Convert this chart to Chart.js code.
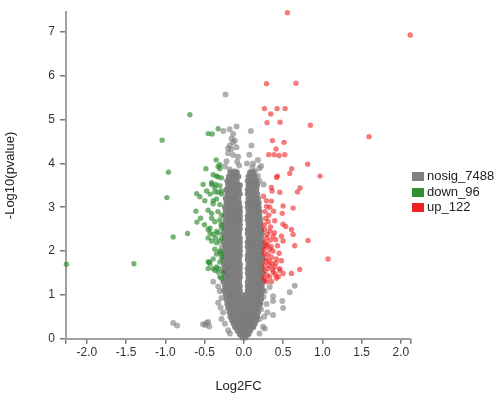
<!DOCTYPE html>
<html>
<head>
<meta charset="utf-8">
<script src="https://cdn.jsdelivr.net/npm/chart.js@4.4.1/dist/chart.umd.min.js"></script>
<style>
  html, body { margin: 0; padding: 0; background: #fff; }
  #wrap { position: relative; width: 498px; height: 397px; }
  .leg { position: absolute; left: 412px; font: 13px "Liberation Sans", Arial, sans-serif; color: #222; line-height: 15px; }
  .leg span { display: inline-block; width: 12px; height: 9px; margin-right: 3px; vertical-align: -1px; }
</style>
</head>
<body>
<div id="wrap">
  <canvas id="volcano" width="498" height="397"></canvas>
  <div class="leg" style="top:168px"><span style="background:#808080"></span>nosig_7488</div>
  <div class="leg" style="top:184px"><span style="background:#2f8f2f"></span>down_96</div>
  <div class="leg" style="top:199px"><span style="background:#ee2222"></span>up_122</div>
</div>
<script>
// axis ranges and tick labels
const xRange = [-2.265, 2.13];
const yRange = [0, 7.45];
const xTicks = [-2.0, -1.5, -1.0, -0.5, 0.0, 0.5, 1.0, 1.5, 2.0];
const yTicks = [0, 1, 2, 3, 4, 5, 6, 7];

// up-regulated genes [log2FC, -log10(p)]
const upPoints = [
  [0.556,7.44],[2.12,6.93],[0.29,5.82],[0.665,5.83],[0.263,5.25],[0.424,5.25],[0.526,5.25],[0.343,5.13],
  [0.297,4.93],[0.462,4.94],[0.848,4.87],[1.595,4.61],[0.365,4.52],[0.513,4.48],[0.411,4.33],[0.318,4.2],
  [0.386,4.2],[0.449,4.18],[0.522,4.2],[0.814,3.98],[0.61,3.88],[0.585,3.77],[0.429,3.71],[0.416,3.68],
  [0.971,3.71],[0.716,3.44],[0.683,3.35],[0.36,3.37],[0.458,3.34],[0.288,3.15],[0.352,3.14],[0.50,3.03],
  [0.628,2.98],[0.38,2.91],[0.49,2.86],[0.28,2.75],[0.31,2.67],[0.394,2.69],[0.50,2.61],[0.534,2.56],
  [0.607,2.49],[0.267,2.49],[0.33,2.45],[0.373,2.34],[0.407,2.26],[0.48,2.34],[0.50,2.23],[0.628,2.38],
  [0.818,2.24],[0.288,2.30],[0.288,2.12],[0.33,2.04],[0.373,2.0],[0.31,1.93],[0.352,1.86],[0.416,1.82],
  [0.48,1.78],[0.288,1.75],[0.33,1.67],[0.394,1.64],[0.458,1.6],[0.649,2.12],[1.073,1.82],[0.712,1.58],
  [0.31,1.6],[0.373,1.52],[0.458,1.56],[0.50,1.49],[0.607,1.49],[0.33,1.41],[0.416,1.38],[0.267,1.34],
  [0.352,1.30],[0.26,2.6],[0.27,2.2],[0.26,1.95],[0.27,1.55],[0.30,1.45],[0.30,2.38],[0.34,2.25],
  [0.36,1.72],[0.28,1.85],[0.32,1.78],[0.40,1.47],[0.44,1.42],[0.27,2.9],[0.29,3.02],[0.25,3.25],
  [0.34,2.55],[0.32,2.82],[0.43,2.12],[0.45,1.95],[0.39,2.42],[0.26,1.67],[0.30,2.15],[0.352,3.45],
  [0.33,3.0],[0.26,2.05],[0.25,1.4],[0.29,1.3],[0.41,1.72],[0.37,1.58],[0.35,2.1]
];

// down-regulated genes
const downPoints = [
  [-0.687,5.11],[-1.04,4.53],[-0.96,3.80],[-0.454,4.68],[-0.403,4.67],[-0.327,4.79],[-0.352,4.08],[-0.483,3.88],
  [-0.327,3.93],[-0.305,3.88],[-0.39,3.74],[-0.327,3.69],[-0.518,3.52],[-0.41,3.56],[-0.356,3.52],[-0.305,3.49],
  [-0.475,3.37],[-0.327,3.34],[-0.284,3.37],[-0.98,3.22],[-0.60,3.31],[-0.56,3.24],[-0.496,3.15],[-0.9,2.32],
  [-0.716,2.40],[-2.26,1.70],[-1.40,1.71],[-0.61,2.91],[-0.55,2.75],[-0.597,2.66],[-0.43,3.3],[-0.454,2.49],
  [-0.39,2.38],[-0.305,2.23],[-0.369,2.04],[-0.44,1.75],[-0.39,1.6],[-0.327,1.52],[-0.305,1.41],[-0.347,1.93],
  [-0.305,1.97],[-0.369,3.35],[-0.347,3.19],[-0.284,3.30],[-0.39,3.08],[-0.305,3.06],[-0.454,2.93],[-0.41,2.75],
  [-0.369,2.67],[-0.305,2.71],[-0.284,2.82],[-0.43,2.52],[-0.347,2.45],[-0.284,2.52],[-0.454,2.30],[-0.41,2.23],
  [-0.347,2.19],[-0.305,2.0],[-0.284,1.86],[-0.43,1.71],[-0.454,1.6],[-0.347,1.64],[-0.305,1.75],[-0.369,1.56],
  [-0.284,1.38],[-0.305,3.97],[-0.347,3.71],[-0.284,3.67],[-0.41,3.52],[-0.369,3.45],[-0.39,3.15],[-0.41,2.86],
  [-0.327,2.41],[-0.43,2.41],[-0.284,1.93],[-0.454,1.75],[-0.39,1.82],[-0.327,1.6],[-0.263,1.52],[-0.28,2.3],
  [-0.29,2.6],[-0.33,2.9],[-0.36,2.3],[-0.5,2.6]
];

// nosig cloud, read row by row: [-log10(p), log2FC, log2FC, ...]
const nosigRows = [
  [0.03, -0.02,0.02],
  [0.1, -0.05,-0.01,0.03,0.06],
  [0.18, -0.08,-0.04,0.0,0.04,0.08],
  [0.26, -0.11,-0.07,-0.03,0.01,0.05,0.09,0.12],
  [0.34, -0.13,-0.09,-0.05,-0.01,0.03,0.07,0.11,0.14],
  [0.42, -0.15,-0.11,-0.07,-0.03,0.01,0.05,0.09,0.13,0.16],
  [0.5, -0.17,-0.13,-0.09,-0.05,-0.01,0.03,0.07,0.11,0.15,0.17],
  [0.6, -0.18,-0.14,-0.10,-0.06,-0.02,0.02,0.06,0.10,0.14,0.18],
  [0.7, -0.2,-0.16,-0.12,-0.08,-0.04,0.0,0.04,0.08,0.12,0.16,0.19],
  [0.8, -0.21,-0.17,-0.13,-0.09,-0.05,-0.01,0.03,0.07,0.11,0.15,0.19,0.21],
  [0.9, -0.22,-0.18,-0.14,-0.1,-0.06,-0.02,0.02,0.06,0.1,0.14,0.18,0.22],
  [1.0, -0.23,-0.19,-0.15,-0.11,-0.07,-0.03,0.03,0.07,0.11,0.15,0.19,0.22],
  [1.1, -0.25,-0.21,-0.17,-0.13,-0.09,-0.05,0.05,0.09,0.13,0.17,0.21,0.24],
  [1.2, -0.24,-0.20,-0.16,-0.12,-0.08,-0.05,0.05,0.08,0.12,0.16,0.20,0.23],
  [1.3, -0.26,-0.22,-0.18,-0.14,-0.10,-0.06,0.05,0.09,0.13,0.17,0.21,0.24],
  [1.4, -0.24,-0.20,-0.16,-0.12,-0.08,-0.05,0.06,0.10,0.14,0.18,0.22],
  [1.5, -0.25,-0.21,-0.17,-0.13,-0.09,-0.05,0.05,0.09,0.13,0.17,0.21,0.24],
  [1.6, -0.24,-0.20,-0.16,-0.12,-0.08,-0.05,0.05,0.08,0.12,0.16,0.20,0.23],
  [1.7, -0.25,-0.21,-0.17,-0.13,-0.09,-0.05,0.06,0.10,0.14,0.18,0.22],
  [1.8, -0.26,-0.22,-0.18,-0.14,-0.10,-0.06,0.05,0.09,0.13,0.17,0.21,0.24],
  [1.9, -0.24,-0.20,-0.16,-0.12,-0.08,-0.05,0.05,0.08,0.12,0.16,0.20,0.23],
  [2.0, -0.25,-0.21,-0.17,-0.13,-0.09,-0.05,0.06,0.10,0.14,0.18,0.22],
  [2.1, -0.24,-0.20,-0.16,-0.12,-0.08,-0.05,0.05,0.09,0.13,0.17,0.21,0.24],
  [2.2, -0.25,-0.21,-0.17,-0.13,-0.09,-0.05,0.05,0.08,0.12,0.16,0.20,0.23],
  [2.3, -0.24,-0.20,-0.16,-0.12,-0.08,-0.05,0.06,0.10,0.14,0.18,0.22],
  [2.4, -0.26,-0.22,-0.18,-0.14,-0.10,-0.06,0.05,0.09,0.13,0.17,0.21,0.23],
  [2.5, -0.24,-0.20,-0.16,-0.12,-0.08,-0.05,0.05,0.08,0.12,0.16,0.20,0.22],
  [2.6, -0.25,-0.21,-0.17,-0.13,-0.09,-0.05,0.06,0.10,0.14,0.18,0.21],
  [2.7, -0.23,-0.19,-0.15,-0.11,-0.07,-0.05,0.05,0.09,0.13,0.17,0.21],
  [2.8, -0.24,-0.20,-0.16,-0.12,-0.08,-0.05,0.05,0.08,0.12,0.16,0.20],
  [2.9, -0.23,-0.19,-0.15,-0.11,-0.07,-0.05,0.06,0.10,0.14,0.18,0.20],
  [3.0, -0.24,-0.20,-0.16,-0.12,-0.08,-0.05,0.05,0.09,0.13,0.17,0.19],
  [3.1, -0.22,-0.18,-0.14,-0.10,-0.06,0.05,0.08,0.12,0.16,0.19],
  [3.2, -0.23,-0.19,-0.15,-0.11,-0.07,0.06,0.10,0.14,0.18],
  [3.3, -0.21,-0.17,-0.13,-0.09,-0.05,0.05,0.09,0.13,0.17],
  [3.4, -0.22,-0.18,-0.14,-0.10,-0.06,0.05,0.08,0.12,0.16],
  [3.5, -0.20,-0.16,-0.12,-0.08,-0.05,0.06,0.10,0.14,0.17],
  [3.6, -0.21,-0.17,-0.13,-0.09,0.05,0.09,0.13,0.16],
  [3.7, -0.19,-0.15,-0.11,-0.07,0.06,0.10,0.14],
  [3.8, -0.17,-0.13,-0.09,0.08,0.12]
];

// scattered nosig genes outside the dense cloud
const nosigScatter = [
  [-0.39,1.30],[-0.327,1.19],[-0.305,1.08],[-0.284,0.93],[-0.327,0.82],[-0.297,0.71],[-0.263,0.6],[-0.284,0.45],
  [-0.24,0.34],[-0.2,0.19],[-0.178,0.12],[-0.454,0.38],[-0.9,0.36],[-0.85,0.30],[-0.52,0.33],[-0.475,0.36],
  [-0.44,0.28],[-0.49,0.31],[-0.27,1.6],[-0.28,2.1],[-0.27,2.6],
  [0.33,1.18],[0.585,1.06],[0.373,0.97],[0.373,0.86],[0.49,0.86],[0.5,0.7],[0.373,0.54],[0.245,0.27],
  [0.267,0.23],[0.2,0.45],[0.22,0.67],[0.29,0.79],[0.267,1.08],[0.2,0.12],[0.649,1.21],[0.26,0.5],
  [0.3,0.6],[0.25,0.95],
  [-0.233,5.57],[-0.26,4.74],[-0.18,4.78],[-0.093,4.84],[-0.136,4.67],[-0.156,4.56],[-0.114,4.52],[-0.178,4.41],
  [-0.093,4.37],[-0.2,4.23],[-0.136,4.19],[-0.072,4.15],[-0.085,4.04],[-0.24,3.93],[-0.178,3.86],[-0.114,3.82],
  [-0.136,4.48],[-0.16,4.32],[-0.2,4.34],[-0.06,3.95],[-0.22,4.05],
  [0.089,4.74],[0.098,4.41],[0.18,4.08],[0.22,3.94],[0.04,4.0],[0.11,3.91],[0.14,3.82],[0.18,3.71],
  [0.254,3.52],[0.118,4.0],[0.2,3.89],[0.07,4.2],[0.2,3.6]
];

const toXY = arr => arr.map(([x, y]) => ({ x, y }));
const nosigData = [];
const nosigColors = [];
nosigRows.forEach(row => row.slice(1).forEach(fc => {
  nosigData.push({ x: fc, y: row[0] });
  nosigColors.push('rgba(124,124,124,0.92)');
}));
nosigScatter.forEach(([x, y]) => {
  nosigData.push({ x, y });
  nosigColors.push('rgba(128,128,128,0.62)');
});

const font = { family: '"Liberation Sans", Arial, sans-serif' };

new Chart(document.getElementById('volcano'), {
  type: 'scatter',
  data: {
    datasets: [
      { label: 'up_122', data: toXY(upPoints), order: 1, clip: false,
        backgroundColor: 'rgba(238,34,34,0.6)', pointRadius: 2.7, borderWidth: 0 },
      { label: 'down_96', data: toXY(downPoints), order: 2, clip: false,
        backgroundColor: 'rgba(46,139,46,0.65)', pointRadius: 2.7, borderWidth: 0 },
      { label: 'nosig_7488', data: nosigData, order: 3, clip: false,
        backgroundColor: nosigColors, pointRadius: 3, borderWidth: 0 }
    ]
  },
  options: {
    responsive: false,
    animation: false,
    events: [],
    layout: { padding: { top: 3, right: 87, left: 3, bottom: 3 } },
    plugins: { legend: { display: false }, tooltip: { enabled: false } },
    scales: {
      x: {
        type: 'linear',
        min: xRange[0], max: xRange[1],
        afterBuildTicks: s => { s.ticks = [xRange[0], ...xTicks, xRange[1]].map(v => ({ value: v })); },
        afterFit: s => { s.height = 55.3; },
        ticks: {
          autoSkip: false, maxRotation: 0, padding: 2, color: '#333',
          font: { ...font, size: 12 },
          callback: v => xTicks.includes(v) ? v.toFixed(1) : ''
        },
        grid: { drawOnChartArea: false, drawTicks: true, tickLength: 5, color: '#777', lineWidth: 1.5 },
        border: { display: true, color: '#a0a0a0', width: 2 },
        title: { display: true, text: 'Log2FC', color: '#222', font: { ...font, size: 13 }, padding: { top: 0, bottom: 0 } }
      },
      y: {
        type: 'linear',
        min: yRange[0], max: yRange[1],
        afterBuildTicks: s => { s.ticks = yTicks.map(v => ({ value: v })); },
        afterFit: s => { s.width = 63; },
        ticks: { padding: 5, color: '#333', font: { ...font, size: 12 } },
        grid: { drawOnChartArea: false, drawTicks: true, tickLength: 6, color: '#777', lineWidth: 1.5 },
        border: { display: true, color: '#a0a0a0', width: 2 },
        title: { display: true, text: '-Log10(pvalue)', color: '#222', font: { ...font, size: 13 }, padding: { top: 0, bottom: 0 } }
      }
    }
  }
});
</script>
</body>
</html>
